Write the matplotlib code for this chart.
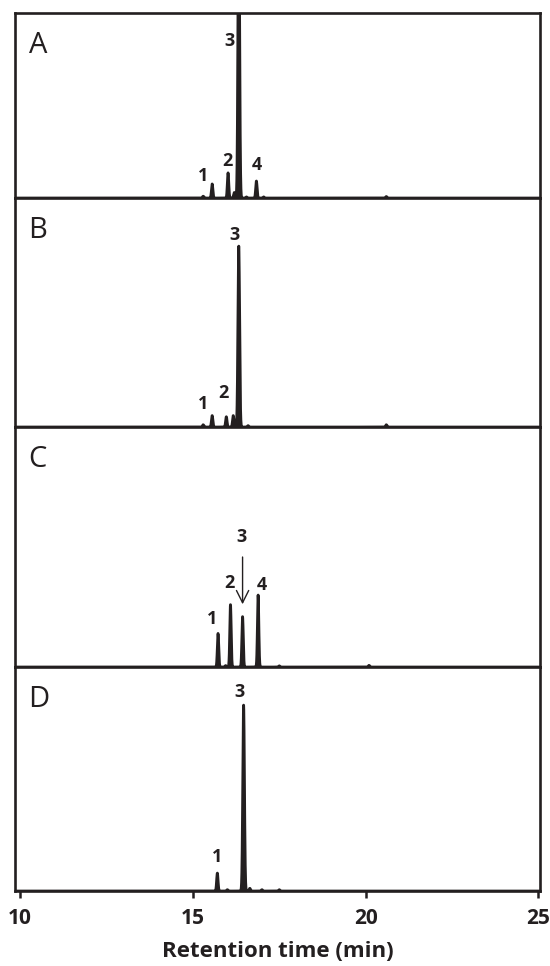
import numpy as np
import matplotlib.pyplot as plt

plt.rcParams['font.family'] = ['Open Sans', 'DejaVu Sans']

# peak tables (time in min, height in % of panel)
panels = ['A', 'B', 'C', 'D']
times_A = [15.30, 15.56, 16.02, 16.20, 16.33, 16.55, 16.84, 17.05, 20.60]
heights_A = [1.0, 7.6, 13.6, 3.0, 160.0, 0.6, 9.2, 0.6, 0.8]
times_B = [15.30, 15.56, 15.97, 16.17, 16.33, 16.60, 20.60]
heights_B = [1.0, 5.0, 4.5, 5.0, 79.0, 0.6, 1.0]
times_C = [15.73, 15.95, 16.09, 16.44, 16.89, 17.50, 20.10]
heights_C = [14.0, 0.6, 26.0, 21.0, 30.0, 0.5, 0.7]
times_D = [15.71, 16.00, 16.47, 16.65, 17.00, 17.50]
heights_D = [8.0, 0.6, 83.0, 1.2, 0.6, 0.6]
peak_times = [times_A, times_B, times_C, times_D]
peak_heights = [heights_A, heights_B, heights_C, heights_D]

# peak labels: (text, time, height %)
labels_A = [('1', 15.3, 12), ('2', 16.0, 20), ('3', 16.05, 85), ('4', 16.85, 18)]
labels_B = [('1', 15.3, 10), ('2', 15.9, 15), ('3', 16.2, 84)]
labels_C = [('1', 15.55, 20), ('2', 16.07, 35), ('3', 16.4, 54), ('4', 17.0, 34)]
labels_D = [('1', 15.7, 15), ('3', 16.35, 89)]
peak_labels = [labels_A, labels_B, labels_C, labels_D]

dark = '#231f20'
ratios = [185, 229, 240, 224]
t = np.linspace(9.8, 25.1, 8000)

fig, axes = plt.subplots(4, 1, figsize=(5.5, 9.66), dpi=100, sharex=True,
                         gridspec_kw={'height_ratios': ratios, 'hspace': 0})
fig.subplots_adjust(left=0.027, right=0.982, top=0.9865, bottom=0.0776)

for ax, name, pt, ph, lab, hpx in zip(axes, panels, peak_times, peak_heights,
                                      peak_labels, ratios):
    y = np.zeros_like(t)
    for c, h in zip(pt, ph):
        s = 0.024 if h > 50 else 0.02
        y += h * np.exp(-0.5 * ((t - c) / s) ** 2)
    ax.plot(t, y, color=dark, lw=2.0)
    ax.fill_between(t, 0, y, color=dark, lw=0)
    ax.set_ylim(0, 100)
    ax.set_xlim(9.85, 25.05)
    ax.set_yticks([])
    for sp in ax.spines.values():
        sp.set_linewidth(1.9)
        sp.set_color(dark)
    ax.text(0.026, 1 - 32 / hpx, name, transform=ax.transAxes, fontsize=21,
            color=dark, va='center', ha='left')
    for txt, x0, y0 in lab:
        ax.text(x0, y0, txt, fontsize=13, fontweight='bold', color=dark,
                ha='center', va='center')
    ax.tick_params(axis='x', length=0)

# arrow pointing at peak 3 in panel C
axes[2].annotate('', xy=(16.44, 25), xytext=(16.44, 47),
                 arrowprops=dict(arrowstyle='->', color=dark, lw=1.0,
                                 mutation_scale=22))

axes[3].set_xticks([10, 15, 20, 25])
axes[3].tick_params(axis='x', length=5, width=1.8, color=dark, direction='out',
                    labelsize=15, pad=7)
for lb in axes[3].get_xticklabels():
    lb.set_fontweight('bold')
    lb.set_color(dark)
axes[3].set_xlabel('Retention time (min)', fontsize=16, fontweight='bold',
                   color=dark, labelpad=9)

fig.savefig('out.png', dpi=100)
